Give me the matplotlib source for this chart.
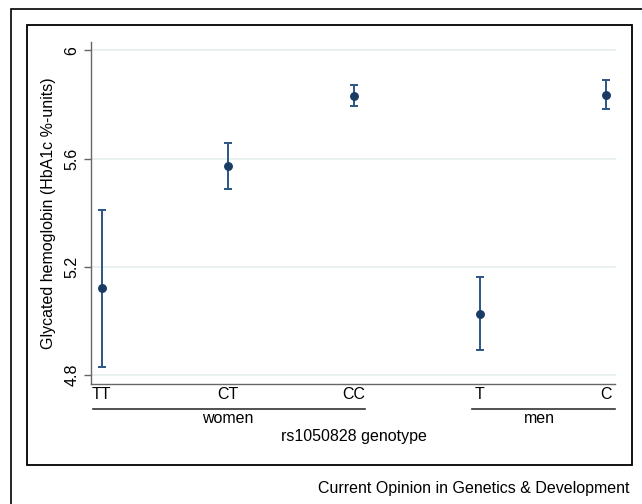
import matplotlib
matplotlib.use("Agg")
import matplotlib.pyplot as plt
import matplotlib.transforms as mtransforms
from matplotlib.patches import Rectangle
from matplotlib.lines import Line2D

plt.rcParams['font.family'] = ['Liberation Sans', 'DejaVu Sans']

categories = ["TT", "CT", "CC", "T", "C"]
means = [5.120, 5.572, 5.833, 5.027, 5.836]
upper = [5.409, 5.658, 5.872, 5.163, 5.889]
lower = [4.829, 5.488, 5.795, 4.891, 5.784]
groups = ["women", "men"]
yticks = [4.8, 5.2, 5.6, 6.0]
ytick_labels = ["4.8", "5.2", "5.6", "6"]

W, H = 642, 504
fig = plt.figure(figsize=(W / 100, H / 100), dpi=100)

def fx(px):
    return px / W

def fy(py):
    return 1 - py / H

FS = 11.5

# outer and inner frames
fig.patches.append(Rectangle((fx(11), fy(520)), fx(660) - fx(11), fy(9) - fy(520),
                             transform=fig.transFigure, fill=False, ec="black", lw=1.2))
fig.patches.append(Rectangle((fx(26.7), fy(465)), fx(631.7) - fx(26.7), fy(24.7) - fy(465),
                             transform=fig.transFigure, fill=False, ec="black", lw=1.3))

ax = fig.add_axes([fx(90.7), fy(384), fx(615.5) - fx(90.7), fy(41.7) - fy(384)])
x = list(range(len(categories)))
yerr = [[m - l for m, l in zip(means, lower)], [u - m for u, m in zip(upper, means)]]
ax.errorbar(x, means, yerr=yerr, fmt="none", ecolor="#2c5585", elinewidth=1.4,
            capsize=2.7, capthick=1.4, zorder=3)
ax.plot(x, means, "o", color="#1a3b63", ms=5.4, zorder=4)

ax.set_xlim(-0.086, 4.075)
ax.set_ylim(4.767, 6.032)
ax.set_yticks(yticks)
ax.set_yticklabels(ytick_labels, rotation=90, va="center", fontsize=FS)
ax.set_xticks(x)
ax.set_xticklabels(categories, fontsize=FS)
ax.tick_params(axis="x", length=0, pad=2)
ax.tick_params(axis="y", length=5, color="#666666", width=1, pad=3)
ax.grid(axis="y", color="#e4eeee", lw=1.2)
ax.set_axisbelow(True)
for s in ["top", "right"]:
    ax.spines[s].set_visible(False)
for s in ["left", "bottom"]:
    ax.spines[s].set_color("#666666")
    ax.spines[s].set_linewidth(1.0)

trans = mtransforms.blended_transform_factory(ax.transData, fig.transFigure)
spans = [(-0.068, 2.089), (2.937, 4.07)]
label_x = [1.0, 3.47]
for g, (a, b), lx in zip(groups, spans, label_x):
    ax.add_line(Line2D([a, b], [fy(409), fy(409)], transform=trans, color="#333333",
                       lw=1.2, clip_on=False))
    ax.text(lx, fy(418.5), g, transform=trans, ha="center", va="center", fontsize=FS)

ax.text(2.0, fy(437), "rs1050828 genotype", transform=trans, ha="center", va="center",
        fontsize=FS)
fig.text(fx(49), fy(213), "Glycated hemoglobin (HbA1c %-units)", rotation=90,
         ha="center", va="center", fontsize=FS)
fig.text(fx(630), fy(489), "Current Opinion in Genetics & Development", ha="right",
         va="center", fontsize=FS)

fig.savefig("out.png", dpi=100)
